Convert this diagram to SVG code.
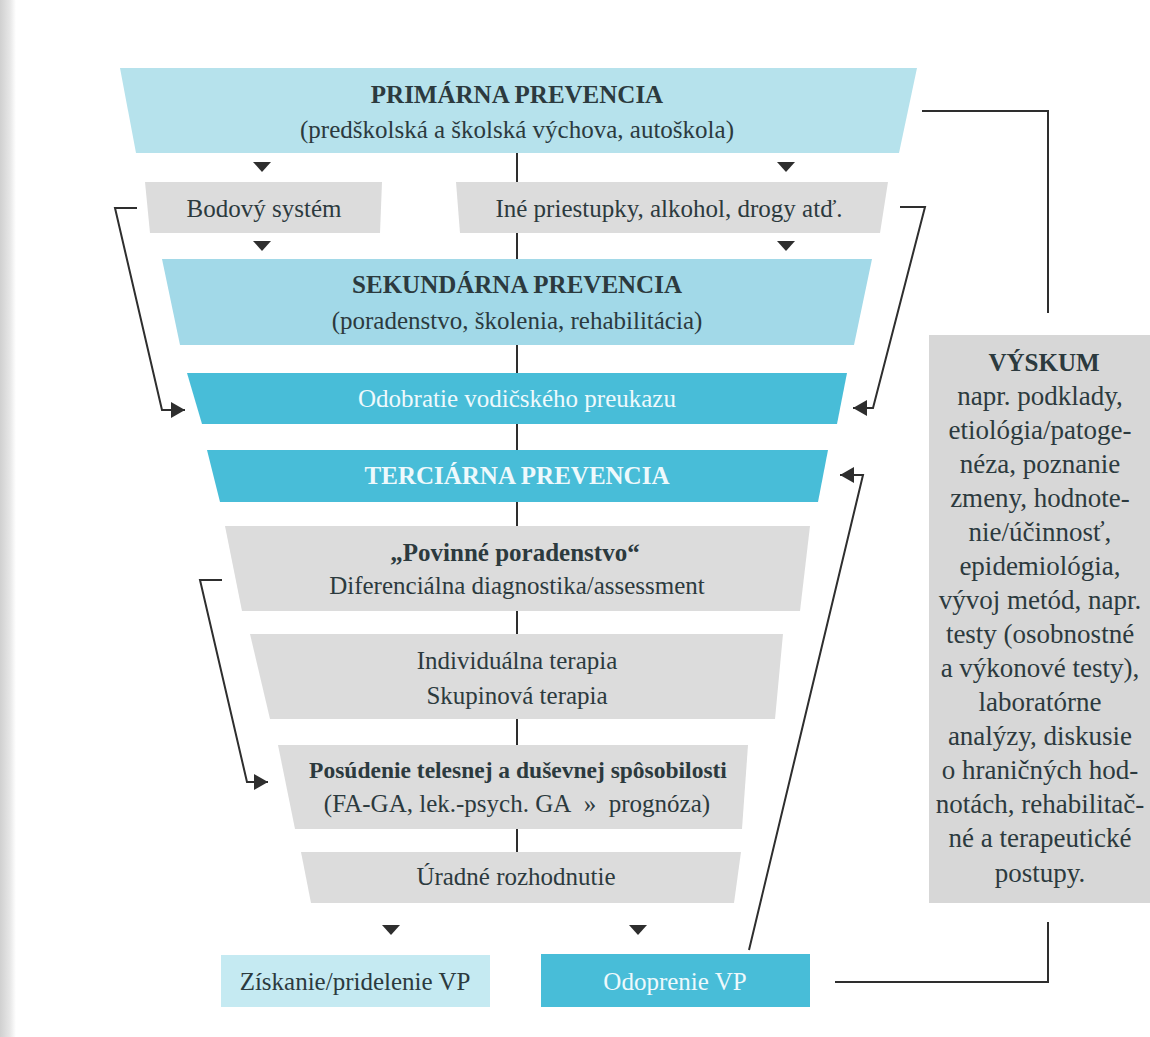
<svg xmlns="http://www.w3.org/2000/svg" width="1150" height="1037" viewBox="0 0 1150 1037">
<defs>
<linearGradient id="edge" x1="0" x2="1" y1="0" y2="0">
<stop offset="0" stop-color="#d0d0d0"/>
<stop offset="0.6" stop-color="#e6e6e6"/>
<stop offset="1" stop-color="#ffffff"/>
</linearGradient>
<marker id="ah" viewBox="0 0 14 16" refX="14" refY="8" markerWidth="14" markerHeight="16" markerUnits="userSpaceOnUse" orient="auto">
<path d="M0,0 L14,8 L0,16 Z" fill="#2e2e2e"/>
</marker>
</defs>
<style>
text{font-family:'Liberation Serif','DejaVu Serif',serif;text-anchor:middle;fill:#2c3a3e;font-size:25px}
.b{font-weight:bold;font-size:25px}
.w{fill:#eef9fc}
.c1{fill:#b6e2ec}
.c2{fill:#a2d9e8}
.c3{fill:#48bdd8}
.c4{fill:#c5eaf2}
.g{fill:#dcdcdc}
.gv{fill:#d7d7d7}
.line{fill:none;stroke:#2e2e2e;stroke-width:2}
.tri{fill:#2e2e2e}
.vy{font-size:27px}
.vt{font-size:25px}
</style>
<rect x="0" y="0" width="1150" height="1037" fill="#ffffff"/>
<rect x="0" y="0" width="16" height="1037" fill="url(#edge)"/>

<g id="connectors">
<line class="line" x1="517" y1="153" x2="517" y2="852"/>
<polyline class="line" points="922,111 1048,111 1048,313"/>
<polyline class="line" points="1048,922 1048,982 835,982"/>
<polyline class="line" points="137,208 115,208 162,410 185,410" marker-end="url(#ah)"/>
<polyline class="line" points="900,207 925,207 873,408 853,408" marker-end="url(#ah)"/>
<polyline class="line" points="222,580 200,580 247,782 268,782" marker-end="url(#ah)"/>
<polyline class="line" points="749,950 863,475 840,475" marker-end="url(#ah)"/>
<path class="tri" d="M253,162 L271,162 L262,172 Z"/>
<path class="tri" d="M777,162 L795,162 L786,172 Z"/>
<path class="tri" d="M253,241 L271,241 L262,251 Z"/>
<path class="tri" d="M777,241 L795,241 L786,251 Z"/>
<path class="tri" d="M382,925 L400,925 L391,935 Z"/>
<path class="tri" d="M629,925 L647,925 L638,935 Z"/>
</g>

<g id="primarna">
<polygon class="c1" points="120,68 917,68 899,153 136,153"/>
<text class="b" x="517" y="103">PRIMÁRNA PREVENCIA</text>
<text x="517" y="138">(predškolská a školská výchova, autoškola)</text>
</g>

<g id="bodovy">
<polygon class="g" points="145,182 382,182 380,233 150,233"/>
<text x="264" y="217">Bodový systém</text>
</g>

<g id="ine">
<polygon class="g" points="456,182 888,182 880,233 460,233"/>
<text x="669" y="217">Iné priestupky, alkohol, drogy atď.</text>
</g>

<g id="sekundarna">
<polygon class="c2" points="162,259 872,259 854,345 180,345"/>
<text class="b" x="517" y="293">SEKUNDÁRNA PREVENCIA</text>
<text x="517" y="329">(poradenstvo, školenia, rehabilitácia)</text>
</g>

<g id="odobratie">
<polygon class="c3" points="187,373 847,373 837,424 202,424"/>
<text class="w" x="517" y="407">Odobratie vodičského preukazu</text>
</g>

<g id="terciarna">
<polygon class="c3" points="207,450 828,450 818,502 220,502"/>
<text class="b w" x="517" y="484">TERCIÁRNA PREVENCIA</text>
</g>

<g id="povinne">
<polygon class="g" points="225,526 810,526 800,611 242,611"/>
<text class="b" x="515" y="561">„Povinné poradenstvo“</text>
<text x="517" y="594">Diferenciálna diagnostika/assessment</text>
</g>

<g id="terapia">
<polygon class="g" points="250,634 783,634 775,719 270,719"/>
<text x="517" y="669">Individuálna terapia</text>
<text x="517" y="704">Skupinová terapia</text>
</g>

<g id="posudenie">
<polygon class="g" points="278,745 748,745 742,829 295,829"/>
<text class="b" x="518" y="778" style="font-size:23.5px">Posúdenie telesnej a duševnej spôsobilosti</text>
<text x="517" y="812">(FA-GA, lek.-psych. GA&#160; »&#160; prognóza)</text>
</g>

<g id="uradne">
<polygon class="g" points="301,852 741,852 734,903 311,903"/>
<text x="516" y="885">Úradné rozhodnutie</text>
</g>

<g id="ziskanie">
<rect class="c4" x="221" y="955" width="269" height="52"/>
<text x="355" y="990">Získanie/pridelenie VP</text>
</g>

<g id="odoprenie">
<rect class="c3" x="541" y="954" width="269" height="53"/>
<text class="w" x="675" y="990">Odoprenie VP</text>
</g>

<g id="vyskum">
<rect class="gv" x="929" y="335" width="221" height="568"/>
<text class="b vt" x="1044" y="371">VÝSKUM</text>
<text class="vy" x="1040" y="405">napr. podklady,</text>
<text class="vy" x="1040" y="439">etiológia/patoge-</text>
<text class="vy" x="1040" y="473">néza, poznanie</text>
<text class="vy" x="1040" y="507">zmeny, hodnote-</text>
<text class="vy" x="1040" y="541">nie/účinnosť,</text>
<text class="vy" x="1040" y="575">epidemiológia,</text>
<text class="vy" x="1040" y="609">vývoj metód, napr.</text>
<text class="vy" x="1040" y="643">testy (osobnostné</text>
<text class="vy" x="1040" y="677">a výkonové testy),</text>
<text class="vy" x="1040" y="711">laboratórne</text>
<text class="vy" x="1040" y="745">analýzy, diskusie</text>
<text class="vy" x="1040" y="779">o hraničných hod-</text>
<text class="vy" x="1040" y="813">notách, rehabilitač-</text>
<text class="vy" x="1040" y="847">né a terapeutické</text>
<text class="vy" x="1040" y="882">postupy.</text>
</g>
</svg>
